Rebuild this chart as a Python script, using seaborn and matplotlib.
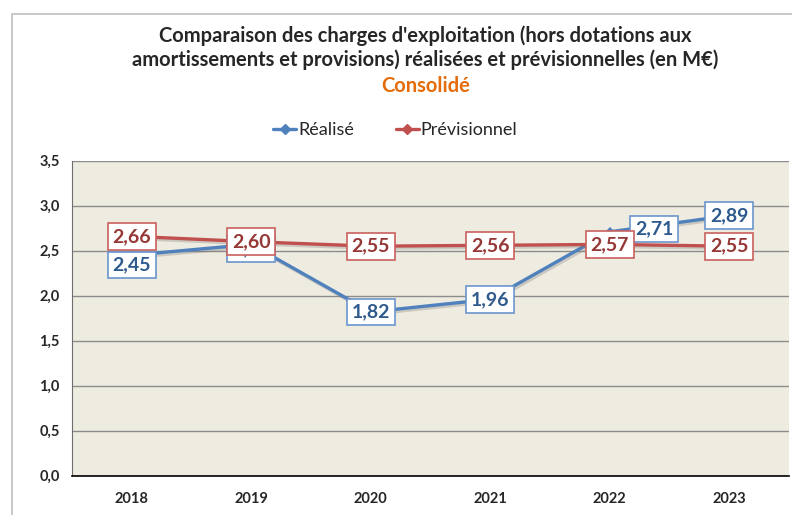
import matplotlib
matplotlib.use("Agg")
import matplotlib.pyplot as plt
import matplotlib.patheffects as pe
from matplotlib.patches import Rectangle
from matplotlib.lines import Line2D
import seaborn as sns
import pandas as pd
import numpy as np

years = ["2018", "2019", "2020", "2021", "2022", "2023"]
realise = [2.45, 2.57, 1.82, 1.96, 2.71, 2.89]
previsionnel = [2.66, 2.60, 2.55, 2.56, 2.57, 2.55]
series_names = ["Réalisé", "Prévisionnel"]
yticks = [0.0, 0.5, 1.0, 1.5, 2.0, 2.5, 3.0, 3.5]
title_lines = ["Comparaison des charges d'exploitation (hors dotations aux",
               "amortissements et provisions) réalisées et prévisionnelles (en M€)"]
subtitle = "Consolidé"

sns.set_style("white")
plt.rcParams['font.family'] = ['Lato', 'DejaVu Sans']

line_colors = ["#4F81BD", "#C0504D"]
text_colors = ["#2E5A8E", "#953735"]
edge_colors = ["#6A96CC", "#C9605D"]

df = pd.DataFrame({
    "pos": list(range(len(years))) * 2,
    "value": realise + previsionnel,
    "serie": [series_names[0]] * len(years) + [series_names[1]] * len(years),
})

fig = plt.figure(figsize=(7.92, 5.15), dpi=100)
fig.patch.set_facecolor("white")
# outer frame
fig.patches.append(Rectangle((12/792, -0.05), 1.2, 1 - 14/515 + 0.05, transform=fig.transFigure,
                             fill=False, edgecolor="#BFBFBF", linewidth=1.2))
ax = fig.add_axes([72/792, 1 - 475.7/515, 717/792, 315/515])
ax.set_facecolor("#EEEBE0")

shadow = [pe.SimpleLineShadow(offset=(1.2, -1.5), shadow_color="#777777", alpha=0.3), pe.Normal()]

sns.lineplot(data=df, x="pos", y="value", hue="serie", palette=line_colors,
             marker="D", markersize=5, markeredgewidth=0, linewidth=2.4,
             ax=ax, legend=False, zorder=3)
for ln in ax.lines:
    ln.set_path_effects(shadow)

ax.set_xlim(-0.5, len(years) - 0.5)
ax.set_ylim(0, 3.5)
ax.set_yticks(yticks)
ax.set_yticklabels([f"{v:.1f}".replace(".", ",") for v in yticks], fontsize=10.5, fontweight="bold")
ax.set_xticks(range(len(years)))
ax.set_xticklabels(years, fontsize=10.5, fontweight="bold")
ax.set_xticks(np.arange(-0.5, len(years)), minor=True)
ax.tick_params(axis="x", which="major", length=0, pad=12)
ax.tick_params(axis="x", which="minor", length=6, width=1, color="black", direction="out")
ax.tick_params(axis="y", length=5, width=1, color="#555555", direction="out", pad=4)
ax.grid(axis="y", color="#8C8C8C", linewidth=1)
ax.set_axisbelow(True)
ax.set_xlabel("")
ax.set_ylabel("")
for s in ["top", "right"]:
    ax.spines[s].set_visible(False)
ax.spines["left"].set_color("#6E6E6E")
ax.spines["bottom"].set_color("black")
ax.spines["bottom"].set_linewidth(1.2)

# data labels (the 2019 "Réalisé" label sits behind the "Prévisionnel" one, as in the source)
offsets_real = [(0, -7), (0, -3), (0, 0), (0, 0), (32, 2), (0, 0)]
offsets_prev = [(0, 0)] * len(years)
for vals, offs, tc, ec in [(realise, offsets_real, text_colors[0], edge_colors[0]),
                           (previsionnel, offsets_prev, text_colors[1], edge_colors[1])]:
    for i, v in enumerate(vals):
        ax.annotate(f"{v:.2f}".replace(".", ","), xy=(i, v), xytext=offs[i],
                    textcoords="offset points", ha="center", va="center",
                    fontsize=14, fontweight="bold", color=tc, zorder=5,
                    bbox=dict(boxstyle="square,pad=0.25", facecolor="white",
                              edgecolor=ec, linewidth=1.2))

# titles
fig.text(0.537, 1 - 36/515, title_lines[0], ha="center", va="center", fontsize=14.5, fontweight="bold")
fig.text(0.537, 1 - 60/515, title_lines[1], ha="center", va="center", fontsize=14.5, fontweight="bold")
fig.text(0.537, 1 - 86/515, subtitle, ha="center", va="center", fontsize=14.5, fontweight="bold", color="#E46C0A")

# legend
handles = [Line2D([0], [0], color=c, marker="D", markersize=5, linewidth=2.4) for c in line_colors]
fig.legend(handles, series_names, loc="center", bbox_to_anchor=(0.499, 1 - 130/515), ncol=2,
           frameon=False, fontsize=13, handlelength=1.3, handletextpad=0.1, columnspacing=2.3)

fig.savefig("out.png", dpi=100, facecolor="white")
